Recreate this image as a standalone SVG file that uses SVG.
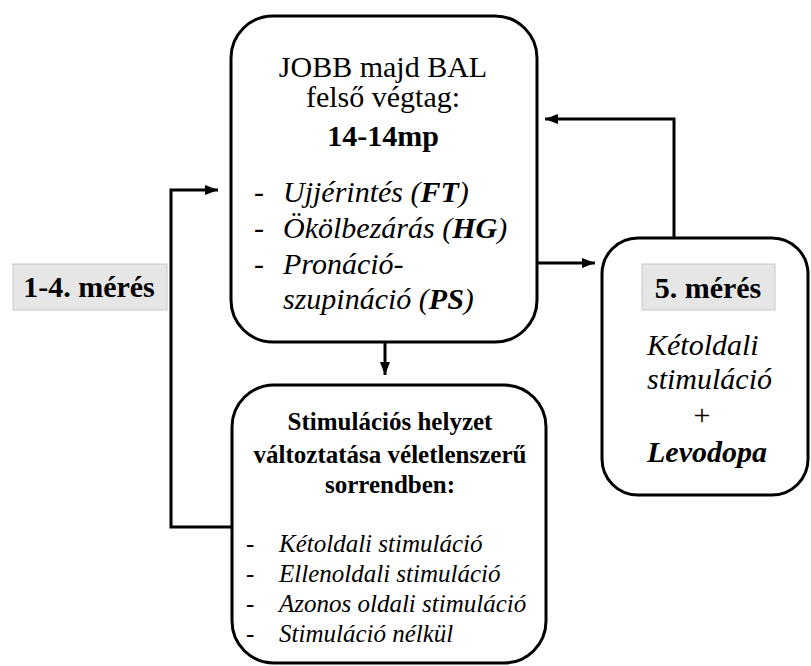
<svg xmlns="http://www.w3.org/2000/svg" width="811" height="666" viewBox="0 0 811 666">
<style>
.box{fill:#fff;stroke:#000;stroke-width:3}
.lbl{fill:#e6e6e6;stroke:#c8c8c8;stroke-width:1}
text{font-family:"Liberation Serif","Times New Roman",serif;fill:#000}
.l{font-size:30px}
.s{font-size:25px}
.b{font-weight:bold}
.i{font-style:italic}
.m{text-anchor:middle}
.c{stroke:#000;stroke-width:3;fill:none}
</style>
<defs>
<marker id="ah" markerUnits="userSpaceOnUse" markerWidth="13" markerHeight="12" viewBox="0 0 13 12" refX="13" refY="6" orient="auto">
<path d="M0,1 L13,6 L0,11 z" fill="#000"/>
</marker>
</defs>
<g id="connectors">
<path class="c" d="M232,527 H171 V190 H218" marker-end="url(#ah)"/>
<path class="c" d="M537,263 H595" marker-end="url(#ah)"/>
<path class="c" d="M674,237 V119 H545" marker-end="url(#ah)"/>
<path class="c" d="M385,342 V375" marker-end="url(#ah)"/>
</g>
<g id="top-box">
<rect class="box" x="231" y="16" width="306" height="326" rx="42"/>
<text class="l m" x="383" y="77">JOBB majd BAL</text>
<text class="l m" x="383" y="107">felső végtag:</text>
<text class="l m b" x="383" y="146">14-14mp</text>
<text class="l" x="254" y="202">-</text>
<text class="l i" x="283" y="202">Ujjérintés (<tspan class="b">FT</tspan>)</text>
<text class="l" x="254" y="238">-</text>
<text class="l i" x="283" y="238">Ökölbezárás (<tspan class="b">HG</tspan>)</text>
<text class="l" x="254" y="274">-</text>
<text class="l i" x="283" y="274">Pronáció-</text>
<text class="l i" x="283" y="309">szupináció (<tspan class="b">PS</tspan>)</text>
</g>
<g id="bottom-box">
<rect class="box" x="232" y="385" width="314" height="278" rx="42"/>
<text class="s b m" x="390" y="430">Stimulációs helyzet</text>
<text class="s b m" x="390" y="463">változtatása véletlenszerű</text>
<text class="s b m" x="390" y="493">sorrendben:</text>
<text class="s" x="246" y="552">-</text>
<text class="s i" x="279" y="552">Kétoldali stimuláció</text>
<text class="s" x="246" y="582">-</text>
<text class="s i" x="279" y="582">Ellenoldali stimuláció</text>
<text class="s" x="246" y="612">-</text>
<text class="s i" x="279" y="612">Azonos oldali stimuláció</text>
<text class="s" x="246" y="642">-</text>
<text class="s i" x="279" y="642">Stimuláció nélkül</text>
</g>
<g id="right-box">
<rect class="box" x="602" y="238" width="206" height="257" rx="36"/>
<rect class="lbl" x="642" y="264" width="133" height="46"/>
<text class="l b m" x="708" y="298">5. mérés</text>
<text class="l i" x="647" y="355">Kétoldali</text>
<text class="l i" x="647" y="389">stimuláció</text>
<text class="l m" x="702" y="425">+</text>
<text class="l i b" x="647" y="462">Levodopa</text>
</g>
<g id="label-1-4">
<rect class="lbl" x="13" y="264" width="154" height="46"/>
<text class="l b m" x="89" y="297">1-4. mérés</text>
</g>
</svg>
